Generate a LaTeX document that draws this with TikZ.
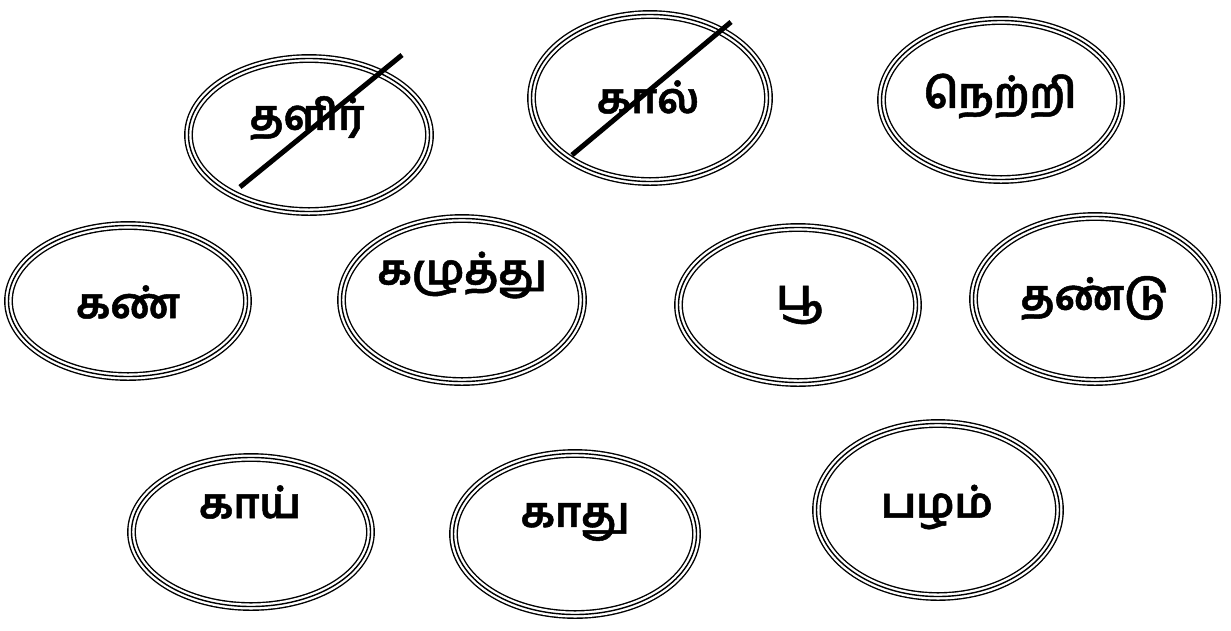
\documentclass[tikz,border=0pt]{standalone}
\usepackage{fontspec}
\newfontfamily\tamil[Script=Tamil, BoldFeatures={FakeBold=1.2}]{Hind Madurai}
\usetikzlibrary{shapes.geometric}
\tikzset{
  ring/.style={ellipse, draw=black, line width=1.4pt, inner sep=0pt,
    preaction={draw=black, line width=8.8pt},
    preaction={draw=white, line width=6pt}},
  word/.style={font=\tamil\bfseries\fontsize{42}{48}\selectfont, inner sep=0pt},
  slash/.style={line width=5pt, black}
}
\begin{document}
\begin{tikzpicture}[x=1pt,y=-1pt]
\useasboundingbox (0,0) rectangle (1231,630);
% ellipses (middle ring radii)
\node[ring, minimum width=241pt, minimum height=153pt] (e1) at (309,135) {};
\node[ring, minimum width=237pt, minimum height=167pt] (e2) at (650,98) {};
\node[ring, minimum width=239pt, minimum height=159pt] (e3) at (1001,100) {};
\node[ring, minimum width=239pt, minimum height=151pt] (e4) at (128,301) {};
\node[ring, minimum width=241pt, minimum height=163pt] (e5) at (462,300) {};
\node[ring, minimum width=239pt, minimum height=155pt] (e6) at (798,305) {};
\node[ring, minimum width=243pt, minimum height=165pt] (e7) at (1095,299) {};
\node[ring, minimum width=239pt, minimum height=149pt] (e8) at (251,532) {};
\node[ring, minimum width=243pt, minimum height=161pt] (e9) at (575,534) {};
\node[ring, minimum width=243pt, minimum height=173pt] (e10) at (938,510) {};
% words
\node[word] (w1) at (307,118) {தளிர்};
\node[word] (w2) at (648,97) {கால்};
\node[word] (w3) at (1000,96) {நெற்றி};
\node[word] (w4) at (128,302) {கண்};
\node[word] (w5) at (462,275) {கழுத்து};
\node[word] (w6) at (800,305) {பூ};
\node[word] (w7) at (1095,298) {தண்டு};
\node[word] (w8) at (250,502) {காய்};
\node[word] (w9) at (575,522) {காது};
\node[word] (w10) at (937,507) {பழம்};
% crossing-out lines
\coordinate (s1a) at (240,187);
\coordinate (s1b) at (402,55);
\coordinate (s2a) at (572,155);
\coordinate (s2b) at (731,22);
\draw[slash] (s1a) -- (s1b);
\draw[slash] (s2a) -- (s2b);
\end{tikzpicture}
\end{document}
